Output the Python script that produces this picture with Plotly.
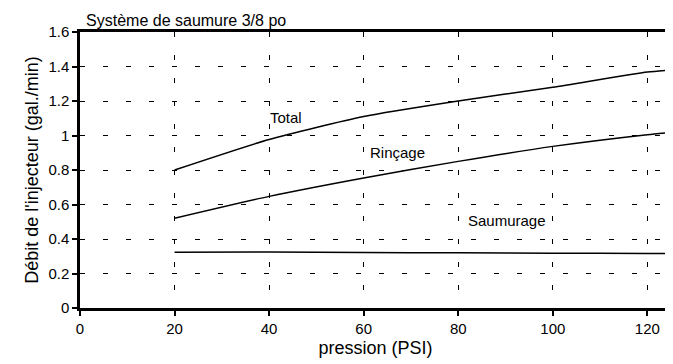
import plotly.graph_objects as go

# Pressure (PSI) and injector flow rates (gal./min)
pressure = [20, 40, 60, 80, 100, 120, 125]
total = [0.80, 0.977, 1.11, 1.20, 1.28, 1.368, 1.38]
rincage = [0.52, 0.647, 0.754, 0.85, 0.937, 1.005, 1.018]
saumurage = [0.323, 0.325, 0.322, 0.320, 0.318, 0.316, 0.315]

x_ticks = [0, 20, 40, 60, 80, 100, 120]
y_ticks = [0, 0.2, 0.4, 0.6, 0.8, 1, 1.2, 1.4, 1.6]
y_tick_text = ["0", "0.2", "0.4", "0.6", "0.8", "1", "1.2", "1.4", "1.6"]

# label text, x, y (data coords)
labels = [("Total", 43.5, 1.107), ("Rinçage", 67.2, 0.90), ("Saumurage", 90.4, 0.506)]

FONT = "Arial, Liberation Sans, sans-serif"

fig = go.Figure()
for ys, name in [(total, "Total"), (rincage, "Rinçage"), (saumurage, "Saumurage")]:
    fig.add_trace(go.Scatter(
        x=pressure, y=ys, name=name, mode="lines",
        line=dict(color="black", width=1.5, shape="spline", smoothing=0.6),
        showlegend=False,
    ))

for text, lx, ly in labels:
    fig.add_annotation(x=lx, y=ly, text=text, showarrow=False,
                       font=dict(family=FONT, size=15, color="black"))

fig.update_layout(
    width=673, height=364,
    margin=dict(l=72, r=10, t=24, b=64, autoexpand=False),
    paper_bgcolor="white", plot_bgcolor="white",
    font=dict(family=FONT, color="black"),
    title=dict(text="Système de saumure 3/8 po", x=0.116, xanchor="left",
               xref="container", y=0.967, yanchor="middle", font=dict(size=16)),
)
fig.update_xaxes(
    range=[0, 125], tickvals=x_ticks, automargin=False,
    showline=True, linecolor="black", linewidth=2.5, mirror=True,
    ticks="outside", ticklen=5, tickwidth=1.5, tickcolor="black",
    tickfont=dict(size=15),
    showgrid=True, gridcolor="black", gridwidth=1.3, griddash="5px,18px",
    zeroline=False,
    title=dict(text="pression (PSI)", font=dict(size=18), standoff=6),
)
fig.update_yaxes(
    range=[0, 1.6], tickvals=y_ticks, ticktext=y_tick_text, automargin=False,
    showline=True, linecolor="black", linewidth=2.5, mirror=True,
    ticks="outside", ticklen=5, tickwidth=1.5, tickcolor="black",
    tickfont=dict(size=15),
    showgrid=True, gridcolor="black", gridwidth=1.3, griddash="5px,18px",
    zeroline=False,
    title=dict(text="Débit de l'injecteur (gal./min)", font=dict(size=18), standoff=6),
)

fig.write_html("out.html")
